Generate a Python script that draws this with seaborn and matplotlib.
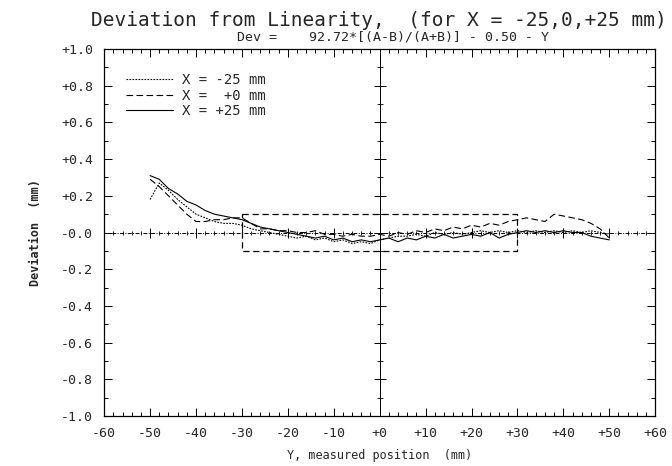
"""
Deviation from linearity for three X positions (plotter-style chart)
"""

import numpy as np
import pandas as pd
import matplotlib
matplotlib.use("Agg")
import matplotlib.pyplot as plt
import seaborn as sns
from matplotlib.ticker import FixedLocator, FixedFormatter, MultipleLocator

# Measured positions (mm)
positions = [-50, -48, -46, -44, -42, -40, -38, -36, -34, -32, -30,
             -28, -26, -24, -22, -20, -18, -16, -14, -12, -10,
             -8, -6, -4, -2, 0, 2, 4, 6, 8, 10,
             12, 14, 16, 18, 20, 22, 24, 26, 28, 30,
             32, 34, 36, 38, 40, 42, 44, 46, 48, 50]

# Deviation (mm) for each X
dev_xm25 = [0.18, 0.27, 0.23, 0.18, 0.14, 0.10, 0.08, 0.06, 0.05, 0.05, 0.04,
            0.02, 0.01, 0.00, -0.01, -0.02, -0.03, -0.02, -0.04, -0.03, -0.05,
            -0.04, -0.06, -0.05, -0.06, -0.04, -0.03, -0.02, -0.02, -0.01, -0.02,
            0.00, -0.01, 0.00, -0.01, 0.00, 0.01, 0.00, 0.01, 0.00, 0.01,
            0.00, 0.01, 0.00, 0.01, 0.00, 0.01, 0.00, 0.01, 0.00, -0.01]
dev_x0 = [0.29, 0.25, 0.20, 0.15, 0.10, 0.06, 0.06, 0.07, 0.07, 0.08, 0.08,
          0.05, 0.02, 0.02, 0.01, 0.01, 0.00, 0.00, 0.01, -0.01, -0.01,
          -0.02, -0.01, -0.02, -0.02, -0.01, -0.02, 0.00, -0.01, 0.01, 0.00,
          0.02, 0.01, 0.03, 0.02, 0.04, 0.03, 0.05, 0.04, 0.06, 0.07,
          0.08, 0.07, 0.06, 0.10, 0.09, 0.08, 0.07, 0.05, 0.02, -0.03]
dev_xp25 = [0.31, 0.29, 0.24, 0.21, 0.17, 0.15, 0.12, 0.10, 0.09, 0.08, 0.07,
            0.05, 0.03, 0.02, 0.01, 0.00, -0.01, -0.02, -0.03, -0.02, -0.04,
            -0.03, -0.05, -0.04, -0.05, -0.04, -0.03, -0.05, -0.03, -0.04, -0.02,
            -0.03, -0.01, -0.03, -0.02, -0.01, -0.02, 0.00, -0.03, -0.01, 0.00,
            0.01, 0.00, 0.01, 0.00, 0.01, 0.00, 0.00, -0.02, -0.03, -0.04]

series_labels = ["X = -25 mm", "X =  +0 mm", "X = +25 mm"]

# Tolerance box (+-30 mm, +-0.1 mm)
box_x = [-30, 30]
box_y = [-0.1, 0.1]

x_ticks = [-60, -50, -40, -30, -20, -10, 0, 10, 20, 30, 40, 50, 60]
x_ticklabels = ["-60", "-50", "-40", "-30", "-20", "-10", "+0",
                "+10", "+20", "+30", "+40", "+50", "+60"]
y_ticks = [1.0, 0.8, 0.6, 0.4, 0.2, 0.0, -0.2, -0.4, -0.6, -0.8, -1.0]
y_ticklabels = ["+1.0", "+0.8", "+0.6", "+0.4", "+0.2", "-0.0",
                "-0.2", "-0.4", "-0.6", "-0.8", "-1.0"]

sns.set_style("ticks")
plt.rcParams['font.family'] = ['DejaVu Sans Mono', 'DejaVu Sans']

df = pd.DataFrame({
    "pos": positions * 3,
    "dev": dev_xm25 + dev_x0 + dev_xp25,
    "series": [series_labels[0]] * len(positions)
              + [series_labels[1]] * len(positions)
              + [series_labels[2]] * len(positions),
})

fig = plt.figure(figsize=(6.72, 4.66), dpi=100)
ax = fig.add_axes([0.155, 0.107, 0.82, 0.788])

dash_map = {series_labels[0]: (1.5, 1.2),
            series_labels[1]: (6, 3),
            series_labels[2]: ""}
sns.lineplot(data=df, x="pos", y="dev", hue="series", style="series",
             dashes=dash_map, palette=["black"] * 3, linewidth=0.8,
             ax=ax, legend=True)

# Center crosshair with small tick marks
ax.axhline(0, color="black", lw=0.7, ls=(0, (4, 1.5, 1, 1.5)))
ax.axvline(0, color="black", lw=0.7)
xt = np.arange(-60, 61, 2)
ax.plot(xt, np.zeros_like(xt), ls="none", marker="|", ms=3, color="black", mew=0.6)
ax.plot(x_ticks, np.zeros(len(x_ticks)), ls="none", marker="|", ms=7, color="black", mew=0.7)
yt = np.arange(-1.0, 1.01, 0.1)
ax.plot(np.zeros_like(yt), yt, ls="none", marker="_", ms=4, color="black", mew=0.6)
ax.plot(np.zeros(len(y_ticks)), y_ticks, ls="none", marker="_", ms=8, color="black", mew=0.7)

# Dashed tolerance box
ax.plot([box_x[0], box_x[1], box_x[1], box_x[0], box_x[0]],
        [box_y[1], box_y[1], box_y[0], box_y[0], box_y[1]],
        color="black", lw=0.9, ls=(0, (5, 3)))

ax.set_xlim(-60, 60)
ax.set_ylim(-1.0, 1.0)
ax.xaxis.set_major_locator(FixedLocator(x_ticks))
ax.xaxis.set_major_formatter(FixedFormatter(x_ticklabels))
ax.yaxis.set_major_locator(FixedLocator(y_ticks))
ax.yaxis.set_major_formatter(FixedFormatter(y_ticklabels))
ax.xaxis.set_minor_locator(MultipleLocator(2))
ax.yaxis.set_minor_locator(MultipleLocator(0.1))
ax.tick_params(which="both", direction="in", top=True, right=True,
               color="black", width=0.7)
ax.tick_params(which="major", length=6, labelsize=9.5, pad=8)
ax.tick_params(which="minor", length=3)
for s in ax.spines.values():
    s.set_linewidth(0.9)
    s.set_color("black")

ax.set_xlabel("Y, measured position  (mm)", fontsize=8.5, labelpad=6)
ax.set_ylabel("Deviation  (mm)", fontsize=8.5, labelpad=14, fontweight="bold")

fig.text(0.564, 0.957, "Deviation from Linearity,  (for X = -25,0,+25 mm)",
         ha="center", va="center", fontsize=14)
fig.text(0.585, 0.921, "Dev =    92.72*[(A-B)/(A+B)] - 0.50 - Y",
         ha="center", va="center", fontsize=9.5)

leg = ax.legend(loc="upper left", bbox_to_anchor=(0.03, 0.95), frameon=False,
                fontsize=10, handlelength=3.4, handletextpad=0.6,
                labelspacing=0.12, borderaxespad=0)
for line in leg.get_lines():
    line.set_linewidth(0.8)

plt.savefig("out.png", dpi=100)
